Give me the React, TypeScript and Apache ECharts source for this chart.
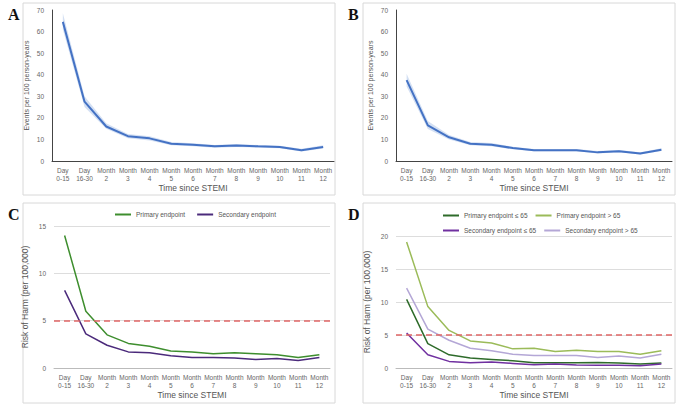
import React, { useEffect, useRef } from "react";
import * as echarts from "echarts";

const categories = ["Day\n0-15", "Day\n16-30", "Month\n2", "Month\n3", "Month\n4", "Month\n5", "Month\n6", "Month\n7", "Month\n8", "Month\n9", "Month\n10", "Month\n11", "Month\n12"];
const aValues = [64.5, 27.5, 16, 11.5, 10.5, 8, 7.5, 6.8, 7.2, 6.8, 6.5, 5, 6.5];
const aLower = [61, 25, 15, 10.5, 9.5, 7.3, 6.8, 6.2, 6.5, 6.2, 5.9, 4.4, 5.8];
const aUpper = [68.5, 30, 17.5, 12.5, 11.5, 8.8, 8.2, 7.4, 7.9, 7.4, 7.1, 5.7, 7.3];
const bValues = [37.5, 16.5, 11, 8, 7.5, 6, 5, 5, 5, 4, 4.5, 3.5, 5.2];
const bLower = [34.5, 14.8, 10, 7.3, 6.8, 5.4, 4.5, 4.5, 4.5, 3.5, 4, 3, 4.6];
const bUpper = [40.5, 18.5, 12, 8.8, 8.3, 6.6, 5.6, 5.6, 5.6, 4.6, 5.1, 4.1, 5.9];
const cPrimary = [14, 6, 3.5, 2.6, 2.3, 1.8, 1.7, 1.5, 1.6, 1.5, 1.4, 1.1, 1.4];
const cSecondary = [8.2, 3.6, 2.4, 1.7, 1.6, 1.3, 1.1, 1.1, 1.05, 0.9, 1.0, 0.8, 1.1];
const dPrimaryLe = [10.4, 3.7, 2.0, 1.5, 1.3, 1.1, 0.8, 0.8, 0.8, 0.85, 0.75, 0.6, 0.75];
const dPrimaryGt = [19.1, 9.3, 5.7, 4.1, 3.8, 2.9, 3.0, 2.5, 2.7, 2.5, 2.5, 2.1, 2.6];
const dSecondaryLe = [5.3, 2.0, 1.0, 0.8, 0.9, 0.7, 0.5, 0.6, 0.45, 0.4, 0.4, 0.35, 0.6];
const dSecondaryGt = [12.1, 5.9, 4.2, 3.0, 2.6, 2.1, 1.9, 1.9, 1.9, 1.6, 1.8, 1.5, 2.1];
const harmThreshold = 5;

const FONT = "Liberation Sans";

export default function App() {
  const ref = useRef<HTMLDivElement>(null);
  useEffect(() => {
    const chart = echarts.init(ref.current!, null, { renderer: "svg" });
    const grids = [
      { left: 52, top: 10, width: 282, height: 151 },
      { left: 396, top: 10, width: 276, height: 151 },
      { left: 54, top: 226, width: 276, height: 142 },
      { left: 396, top: 236, width: 276, height: 132 },
    ];
    const xAxis = grids.map((_, i) => ({
      type: "category",
      gridIndex: i,
      data: categories,
      name: "Time since STEMI",
      nameLocation: "middle",
      nameGap: 22,
      nameTextStyle: { fontSize: 8.5, color: "#555", fontFamily: FONT },
      axisTick: { show: false },
      axisLine: { lineStyle: { color: i < 2 ? "#444" : "#bbb", width: 1 } },
      axisLabel: { fontSize: 6.5, color: "#666", fontFamily: FONT, interval: 0, lineHeight: 8, margin: 5 },
    }));
    const yName = ["Events per 100 person-years", "Events per 100 person-years", "Risk of Harm (per 100,000)", "Risk of Harm (per 100,000)"];
    const yMax = [70, 70, 15, 20];
    const yInt = [10, 10, 5, 5];
    const yAxis = grids.map((_, i) => ({
      type: "value",
      gridIndex: i,
      min: 0,
      max: yMax[i],
      interval: yInt[i],
      name: yName[i],
      nameLocation: "middle",
      nameGap: i < 2 ? 22 : 25,
      nameTextStyle: { fontSize: i < 2 ? 7 : 8.5, color: "#555", fontFamily: FONT },
      axisLine: { show: i < 2, lineStyle: { color: "#444" } },
      axisTick: { show: false },
      splitLine: { show: i >= 2, lineStyle: { color: "#ddd" } },
      axisLabel: { fontSize: 6.5, color: "#666", fontFamily: FONT, margin: 8 },
    }));
    const band = (idx: number, lower: number[], upper: number[], vals: number[]) => [
      { type: "line", xAxisIndex: idx, yAxisIndex: idx, data: lower, stack: "b" + idx, symbol: "none", lineStyle: { opacity: 0 }, silent: true },
      { type: "line", xAxisIndex: idx, yAxisIndex: idx, data: upper.map((u, k) => +(u - lower[k]).toFixed(2)), stack: "b" + idx, symbol: "none", lineStyle: { opacity: 0 }, areaStyle: { color: "#c9d8f0", opacity: 0.8 }, silent: true },
      { type: "line", xAxisIndex: idx, yAxisIndex: idx, data: vals, symbol: "none", lineStyle: { color: "#4472C4", width: 2 } },
    ];
    const ln = (idx: number, name: string, data: number[], color: string, extra: any = {}) => ({
      type: "line", xAxisIndex: idx, yAxisIndex: idx, name, data, symbol: "none", lineStyle: { color, width: 1.5 }, itemStyle: { color }, ...extra,
    });
    const mark = {
      markLine: {
        silent: true, symbol: "none", label: { show: false },
        lineStyle: { color: "#E06666", type: [6, 4], width: 1.5 },
        data: [{ yAxis: harmThreshold }],
      },
    };
    const panel = (x: number, y: number, w: number, h: number, label: string) => [
      { type: "rect", shape: { x, y, width: w, height: h }, style: { fill: "none", stroke: "#d8d8d8", lineWidth: 1 } },
      { type: "text", x: x - 15, y: y + 3, style: { text: label, font: "bold 16px 'Liberation Serif'", fill: "#111" } },
    ];
    chart.setOption({
      animation: false,
      backgroundColor: "#fff",
      grid: grids,
      xAxis,
      yAxis,
      legend: [
        {
          data: ["Primary endpoint", "Secondary endpoint"],
          left: 110, top: 206, itemWidth: 16, itemHeight: 2, itemGap: 12, icon: "rect",
          textStyle: { fontSize: 6.5, color: "#555", fontFamily: FONT },
        },
        {
          data: ["Primary endpoint ≤ 65", "Primary endpoint > 65", "Secondary endpoint ≤ 65", "Secondary endpoint > 65"],
          left: 438, top: 207, width: 200, itemWidth: 16, itemHeight: 2, itemGap: 8, icon: "rect",
          textStyle: { fontSize: 6.5, color: "#555", fontFamily: FONT, width: 60 },
        },
      ],
      graphic: [
        ...panel(23, 3, 312, 192, "A"),
        ...panel(363, 3, 312, 192, "B"),
        ...panel(23, 203, 312, 200, "C"),
        ...panel(363, 203, 312, 200, "D"),
      ],
      series: [
        ...band(0, aLower, aUpper, aValues),
        ...band(1, bLower, bUpper, bValues),
        ln(2, "Primary endpoint", cPrimary, "#3E8E2E", mark),
        ln(2, "Secondary endpoint", cSecondary, "#4B2A7B"),
        ln(3, "Primary endpoint ≤ 65", dPrimaryLe, "#2E6B2A", mark),
        ln(3, "Primary endpoint > 65", dPrimaryGt, "#9BBB59"),
        ln(3, "Secondary endpoint ≤ 65", dSecondaryLe, "#7030A0"),
        ln(3, "Secondary endpoint > 65", dSecondaryGt, "#B4A7D6"),
      ],
    });
    return () => chart.dispose();
  }, []);
  return <div ref={ref} style={{ position: "fixed", left: 0, top: 0, width: 680, height: 409 }} />;
}
